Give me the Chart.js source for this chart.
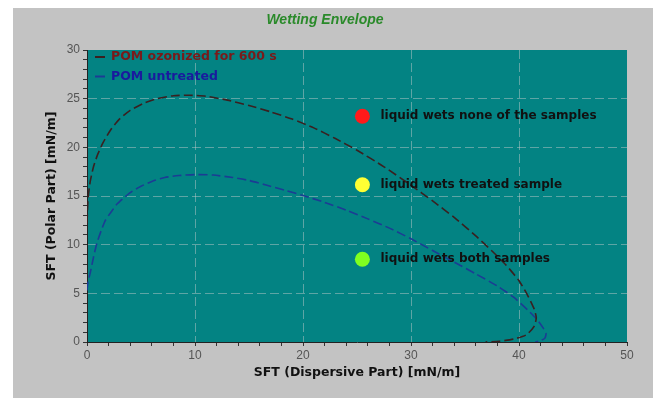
<!DOCTYPE html>
<html>
<head>
<meta charset="utf-8">
<script src="https://cdn.jsdelivr.net/npm/chart.js@4.4.0/dist/chart.umd.min.js"></script>
<style>
  html, body { margin: 0; padding: 0; background: #ffffff; }
  #wrap { width: 659px; height: 398px; }
</style>
</head>
<body>
<div id="wrap"><canvas id="c" width="659" height="398"></canvas></div>
<script>
// ---- Data ----
const chartTitle = "Wetting Envelope";
const xAxisTitle = "SFT (Dispersive Part) [mN/m]";
const yAxisTitle = "SFT (Polar Part) [mN/m]";

const seriesNames = ["POM ozonized for 600 s", "POM untreated"];

const ozonizedX = [0, 0.1, 0.3, 0.6, 1.0, 1.5, 2.2, 3.0, 4.0, 5.2, 6.5, 8.0, 9.5, 11.0, 13.0, 15.0, 17.0, 19.0, 21.0, 23.0, 25.0, 27.5, 30.0, 32.0, 34.0, 36.0, 37.5, 38.8, 40.0, 40.8, 41.4, 41.6, 41.4, 40.7, 39.5, 38.2, 36.9];
const ozonizedY = [12.2, 14.8, 16.5, 18.0, 19.3, 20.5, 21.8, 22.9, 23.8, 24.5, 25.0, 25.3, 25.35, 25.25, 24.85, 24.3, 23.65, 22.9, 22.0, 20.9, 19.7, 18.0, 16.1, 14.5, 12.8, 10.9, 9.35, 7.9, 6.3, 4.8, 3.4, 2.5, 1.6, 0.75, 0.3, 0.08, 0.0];

const untreatedX = [0, 0.1, 0.3, 0.6, 0.9, 1.3, 1.7, 2.2, 2.8, 3.5, 4.2, 5.0, 6.0, 7.2, 8.5, 10.0, 11.7, 13.5, 15.0, 16.5, 18.3, 20.0, 22.0, 24.0, 26.0, 28.0, 30.0, 32.0, 34.0, 36.0, 38.0, 39.5, 40.8, 41.6, 42.2, 42.5, 42.4, 42.0, 41.5];
const untreatedY = [5.3, 6.2, 7.1, 8.7, 10.1, 11.4, 12.5, 13.3, 14.2, 14.9, 15.5, 16.0, 16.5, 16.9, 17.1, 17.2, 17.15, 16.9, 16.6, 16.15, 15.6, 15.05, 14.35, 13.55, 12.65, 11.7, 10.6, 9.4, 8.2, 7.0, 5.75, 4.6, 3.3, 2.4, 1.5, 0.9, 0.4, 0.15, 0.0];

const markerX = [25.5, 25.5, 25.5];
const markerY = [23.2, 16.15, 8.5];
const markerLabels = ["liquid wets none of the samples", "liquid wets treated sample", "liquid wets both samples"];
const markerColors = ["#ff1a1a", "#ffff33", "#80ff20"];

const xMin = 0, xMax = 50, xMinorStep = 2, xMajorStep = 10;
const yMin = 0, yMax = 30, yMinorStep = 1, yMajorStep = 5;

// ---- Build ----
const toPts = (xs, ys) => xs.map((x, i) => ({ x: x, y: ys[i] }));
const lineColors = ["#3a2020", "#1c3c94"];
const legendTextColors = ["#7a1a1a", "#1a1a9e"];

const bgPlugin = {
  id: 'bg',
  beforeDraw(chart) {
    const { ctx, chartArea: a } = chart;
    ctx.save();
    ctx.fillStyle = '#ffffff';
    ctx.fillRect(0, 0, chart.width, chart.height);
    ctx.fillStyle = '#c3c3c3';
    ctx.fillRect(13, 8, 640, 390);
    ctx.fillStyle = '#038383';
    ctx.fillRect(a.left, a.top, a.right - a.left, a.bottom - a.top);
    ctx.restore();
  }
};

const textPlugin = {
  id: 'texts',
  afterDraw(chart) {
    const { ctx, chartArea: a } = chart;
    ctx.save();
    // title
    ctx.font = 'bold italic 14px "Liberation Sans", Arial, sans-serif';
    ctx.fillStyle = '#2a8a2a';
    ctx.textAlign = 'center';
    ctx.textBaseline = 'middle';
    ctx.fillText(chartTitle, 325, 20);
    // legend
    ctx.textAlign = 'left';
    ctx.font = 'bold 12.5px "DejaVu Sans", sans-serif';
    seriesNames.forEach((name, i) => {
      const y = a.top + 7 + i * 19.5;
      ctx.strokeStyle = lineColors[i];
      ctx.lineWidth = 2;
      ctx.beginPath();
      ctx.moveTo(a.left + 8, y);
      ctx.lineTo(a.left + 18, y);
      ctx.stroke();
      ctx.fillStyle = legendTextColors[i];
      ctx.fillText(name, a.left + 24, y);
    });
    // marker labels
    const meta = chart.getDatasetMeta(2);
    ctx.font = 'bold 12px "DejaVu Sans", sans-serif';
    ctx.fillStyle = '#111111';
    meta.data.forEach((el, i) => {
      ctx.fillText(markerLabels[i], el.x + 18, el.y);
    });
    ctx.restore();
  }
};

const tickFont = { family: '"Liberation Sans", Arial, sans-serif', size: 12 };
const titleFont = { family: '"DejaVu Sans", sans-serif', size: 12.5, weight: 'bold' };
const gridCol = 'rgba(185,200,200,0.5)';

new Chart(document.getElementById('c'), {
  type: 'scatter',
  data: {
    datasets: [
      {
        label: seriesNames[0],
        data: toPts(ozonizedX, ozonizedY),
        showLine: true,
        borderColor: lineColors[0],
        borderWidth: 1.6,
        borderDash: [9, 4],
        pointRadius: 0,
        tension: 0.2,
        fill: false
      },
      {
        label: seriesNames[1],
        data: toPts(untreatedX, untreatedY),
        showLine: true,
        borderColor: lineColors[1],
        borderWidth: 1.6,
        borderDash: [9, 4],
        pointRadius: 0,
        tension: 0.2,
        fill: false
      },
      {
        label: 'markers',
        data: toPts(markerX, markerY),
        showLine: false,
        pointRadius: 7.5,
        pointBackgroundColor: markerColors,
        pointBorderColor: markerColors,
        pointBorderWidth: 0
      }
    ]
  },
  options: {
    responsive: false,
    animation: false,
    layout: { padding: { top: 50, right: 32, left: 0, bottom: 0 } },
    plugins: {
      legend: { display: false },
      title: { display: false },
      tooltip: { enabled: false }
    },
    scales: {
      x: {
        type: 'linear',
        min: xMin, max: xMax,
        afterFit(s) { s.height = 56; },
        ticks: {
          stepSize: xMinorStep,
          autoSkip: false,
          maxRotation: 0,
          color: '#555555',
          font: tickFont,
          padding: 2,
          callback: (v) => (v % xMajorStep === 0 ? String(v) : '')
        },
        grid: {
          color: (c) => (c.tick && c.tick.value % xMajorStep === 0 && c.tick.value > xMin && c.tick.value < xMax ? gridCol : 'rgba(0,0,0,0)'),
          tickColor: '#333333',
          tickLength: 4,
          lineWidth: 1
        },
        border: { display: true, color: '#222222', width: 1, dash: [9, 4] },
        title: { display: true, text: xAxisTitle, color: '#111111', font: titleFont, padding: { top: 0, bottom: 17.5 } }
      },
      y: {
        type: 'linear',
        min: yMin, max: yMax,
        afterFit(s) { s.width = 87; },
        ticks: {
          stepSize: yMinorStep,
          autoSkip: false,
          color: '#555555',
          font: tickFont,
          padding: 3,
          callback: (v) => (v % yMajorStep === 0 ? String(v) : '')
        },
        grid: {
          color: (c) => (c.tick && c.tick.value % yMajorStep === 0 && c.tick.value > yMin && c.tick.value < yMax ? gridCol : 'rgba(0,0,0,0)'),
          tickColor: '#333333',
          tickLength: 4,
          lineWidth: 1
        },
        border: { display: true, color: '#222222', width: 1, dash: [9, 4] },
        title: { display: true, text: yAxisTitle, color: '#111111', font: titleFont, padding: { top: 44.5, bottom: 0 } }
      }
    }
  },
  plugins: [bgPlugin, textPlugin]
});
</script>
</body>
</html>
